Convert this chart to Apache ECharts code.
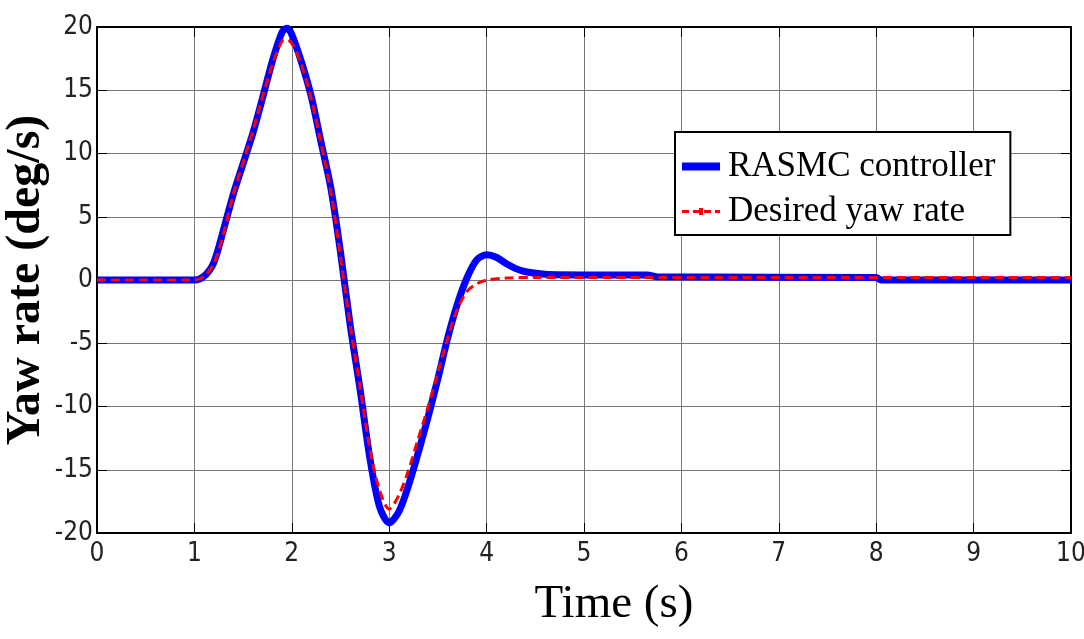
<!DOCTYPE html>
<html>
<head>
<meta charset="utf-8">
<script src="https://cdn.jsdelivr.net/npm/echarts@6/dist/echarts.min.js"></script>
<style>
  html, body { margin: 0; padding: 0; background: #fff; }
  #chart { width: 1084px; height: 639px; }
</style>
</head>
<body>
<div id="chart"></div>
<script>
// time samples (s) and the two yaw rate curves (deg/s)
const tRasmc = [0, 1.0, 1.1, 1.2, 1.3, 1.4, 1.5, 1.6, 1.7, 1.8, 1.9, 1.95, 2.0, 2.1, 2.2, 2.3, 2.4, 2.5, 2.6, 2.7, 2.8, 2.9, 3.0, 3.1, 3.2, 3.3, 3.4, 3.5, 3.6, 3.7, 3.8, 3.9, 4.0, 4.1, 4.2, 4.3, 4.4, 4.6, 5.0, 5.65, 5.75, 8.0, 8.05, 10];
const yRasmc = [0, 0, 0.3, 1.4, 4.0, 6.8, 9.2, 11.6, 14.4, 17.3, 19.6, 19.9, 19.4, 17.2, 14.5, 10.9, 7.3, 2.2, -3.6, -8.6, -14.0, -17.9, -19.2, -18.3, -16.2, -13.6, -10.8, -7.8, -4.6, -1.9, 0.2, 1.6, 2.0, 1.8, 1.3, 0.9, 0.65, 0.45, 0.4, 0.4, 0.25, 0.2, 0.0, 0.0];

const tDesired = [0, 1.0, 1.1, 1.2, 1.3, 1.4, 1.5, 1.6, 1.7, 1.8, 1.9, 1.95, 2.0, 2.1, 2.2, 2.3, 2.4, 2.5, 2.6, 2.7, 2.8, 2.9, 3.0, 3.1, 3.2, 3.3, 3.4, 3.5, 3.6, 3.7, 3.8, 3.9, 4.0, 4.2, 4.5, 10];
const yDesired = [0, 0, 0.3, 1.3, 3.7, 6.8, 9.3, 11.8, 14.5, 17.0, 18.9, 19.0, 18.7, 17.0, 14.3, 10.8, 7.0, 1.8, -3.6, -8.4, -13.3, -16.6, -18.1, -17.0, -15.0, -12.5, -10.0, -7.3, -4.6, -2.3, -0.9, -0.3, 0.0, 0.15, 0.2, 0.2];

const xTicks = [0, 1, 2, 3, 4, 5, 6, 7, 8, 9, 10];
const yTicks = [-20, -15, -10, -5, 0, 5, 10, 15, 20];

const pairs = (xs, ys) => xs.map((x, i) => [x, ys[i]]);

const tickFont = "'Liberation Sans Narrow', 'DejaVu Sans Condensed', sans-serif";
const serif = "'Liberation Serif', 'DejaVu Serif', serif";

const myChart = echarts.init(document.getElementById("chart"));

// box sides without labels (MATLAB style frame)
const frameAxis = (extra) => Object.assign({
  type: "value",
  axisLine: { show: true, onZero: false, lineStyle: { color: "#000", width: 2 } },
  axisTick: { show: true, inside: true, length: 10, lineStyle: { color: "#000" } },
  axisLabel: { show: false },
  splitLine: { show: false }
}, extra);

const option = {
  animation: false,
  backgroundColor: "#fff",
  grid: { left: 97, right: 13, top: 27, bottom: 106, outerBoundsMode: "none", containLabel: false },
  legend: {
    orient: "vertical",
    left: 675,
    top: 132,
    padding: [17, 15, 6, 7],
    itemGap: 10,
    itemWidth: 38,
    itemHeight: 14,
    backgroundColor: "#fff",
    borderColor: "#000",
    borderWidth: 2,
    borderRadius: 0,
    textStyle: { fontFamily: serif, fontSize: 35, color: "#000", padding: [0, 0, 0, 3] },
    data: [
      { name: "RASMC controller", icon: "path://M0,0H38V8H0Z" },
      { name: "Desired yaw rate", icon: "path://M0,0H7V3H0Z M11,0H18V3H11Z M22,0H29V3H22Z M33,0H38V3H33Z M17,-2H21V5H17Z" }
    ]
  },
  xAxis: [
    {
      type: "value",
      min: 0,
      max: 10,
      interval: 1,
      name: "Time (s)",
      nameLocation: "middle",
      nameGap: 48,
      nameMoveOverlap: false,
      nameTextStyle: { fontFamily: serif, fontSize: 47, color: "#000", padding: [0, 0, 0, 60] },
      axisLine: { show: true, onZero: false, lineStyle: { color: "#000", width: 2 } },
      axisTick: { show: true, inside: true, length: 10, lineStyle: { color: "#000", width: 1 } },
      axisLabel: { fontFamily: tickFont, fontSize: 26, color: "#222", margin: 8 },
      splitLine: { show: true, lineStyle: { color: "#777", width: 1 } }
    },
    frameAxis({ position: "top", min: 0, max: 10, interval: 1 })
  ],
  yAxis: [
    {
      type: "value",
      min: -20,
      max: 20,
      interval: 5,
      name: "Yaw rate (deg/s)",
      nameLocation: "middle",
      nameGap: 46,
      nameMoveOverlap: false,
      nameTextStyle: { fontFamily: serif, fontSize: 48, fontWeight: "bold", color: "#000" },
      axisLine: { show: true, onZero: false, lineStyle: { color: "#000", width: 2 } },
      axisTick: { show: true, inside: true, length: 10, lineStyle: { color: "#000" } },
      axisLabel: { fontFamily: tickFont, fontSize: 26, color: "#222", margin: 4 },
      splitLine: { show: true, lineStyle: { color: "#777", width: 1 } }
    },
    frameAxis({ position: "right", min: -20, max: 20, interval: 5 })
  ],
  series: [
    {
      name: "RASMC controller",
      type: "line",
      smooth: 0.3,
      showSymbol: false,
      symbol: "none",
      color: "#0000ff",
      lineStyle: { color: "#0000ff", width: 7 },
      data: pairs(tRasmc, yRasmc)
    },
    {
      name: "Desired yaw rate",
      type: "line",
      smooth: 0.3,
      showSymbol: false,
      symbol: "none",
      color: "#ff0000",
      lineStyle: { color: "#ff0000", width: 3, type: [9, 5] },
      data: pairs(tDesired, yDesired)
    }
  ]
};

myChart.setOption(option);
</script>
</body>
</html>
